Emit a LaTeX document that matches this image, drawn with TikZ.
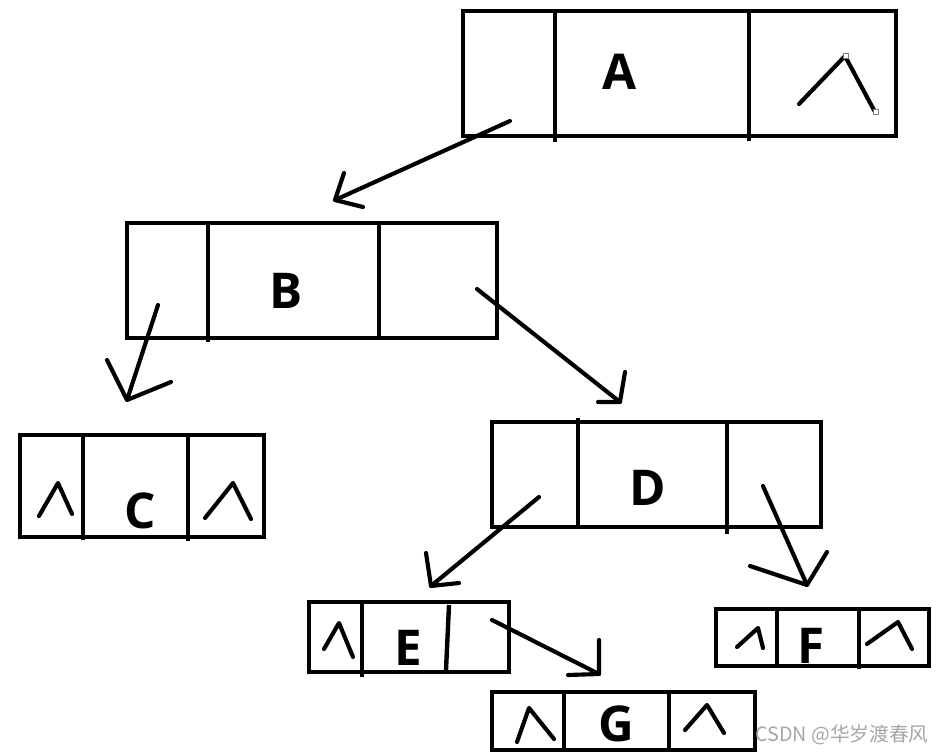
\documentclass[tikz,border=0pt]{standalone}
\usepackage{fontspec}
\setmainfont{Open Sans}
\newfontfamily\cjk{Noto Sans CJK SC}
\begin{document}
\begin{tikzpicture}[x=0.75pt,y=-0.75pt,
  box/.style={line width=3.3pt},
  lab/.style={font=\bfseries\fontsize{37}{40}\selectfont, inner sep=0pt},
  caret/.style={line width=3.1pt, line cap=round, line join=round},
  link/.style={line width=3.1pt, line cap=round, line join=round},
  handle/.style={draw=gray, fill=white, line width=0.4pt, minimum size=4pt, inner sep=0pt}]
\useasboundingbox (0,0) rectangle (942,752);

% ---- A ----
\draw[box] (463,11) rectangle (896,136);
\draw[box] (555,11) -- (555,142);
\draw[box] (749,11) -- (749,141);
\node[lab] (labA) at (620,72) {A};
\draw[caret] (799,104) -- (845,56) -- (875,112);
\node[handle] (h1) at (846,56) {};
\node[handle] (h2) at (876,112) {};

% ---- B ----
\draw[box] (127,223) rectangle (497,338);
\draw[box] (208,223) -- (208,342);
\draw[box] (379,223) -- (379,338);
\node[lab] (labB) at (286,291) {B};

% ---- C ----
\draw[box] (20,435) rectangle (264,537);
\draw[box] (83,435) -- (83,540);
\draw[box] (188,435) -- (188,541);
\node[lab] (labC) at (140,511) {C};
\draw[caret] (39,516) -- (58,483) -- (72,514);
\draw[caret] (205,518) -- (233,483) -- (251,519);

% ---- D ----
\draw[box] (492,422) rectangle (821,527);
\draw[box] (578,418) -- (578,527);
\draw[box] (727,422) -- (727,534);
\node[lab] (labD) at (648,488) {D};

% ---- E ----
\draw[box] (309,602) rectangle (509,672);
\draw[box] (362,602) -- (362,677);
\draw[box] (449,605) -- (446,670);
\node[lab] (labE) at (408,648) {E};
\draw[caret] (324,649) -- (339,623) -- (353,657);

% ---- F ----
\draw[box] (716,609) rectangle (929,666);
\draw[box] (777,609) -- (777,666);
\draw[box] (859,609) -- (859,669);
\node[lab] (labF) at (811,646) {F};
\draw[caret] (737,647) -- (758,628) -- (763,648);
\draw[caret] (867,644) -- (898,622) -- (912,649);

% ---- G ----
\draw[box] (492,692) rectangle (755,750);
\draw[box] (564,692) -- (564,750);
\draw[box] (669,692) -- (669,750);
\node[lab] (labG) at (616,724) {G};
\draw[caret] (517,742) -- (529,708) -- (554,739);
\draw[caret] (685,730) -- (707,705) -- (724,733);

% ---- arrows ----
\coordinate (abS) at (510,121); \coordinate (abT) at (335,200);
\coordinate (abL) at (344,173); \coordinate (abR) at (363,207);
\draw[link] (abS) -- (abT); \draw[link] (abL) -- (abT) -- (abR);

\coordinate (bcS) at (158,305); \coordinate (bcT) at (127,400);
\coordinate (bcL) at (107,360); \coordinate (bcR) at (171,382);
\draw[link] (bcS) -- (bcT); \draw[link] (bcL) -- (bcT) -- (bcR);

\coordinate (bdS) at (477,289); \coordinate (bdT) at (620,402);
\coordinate (bdL) at (625,372); \coordinate (bdR) at (598,402);
\draw[link] (bdS) -- (bdT); \draw[link] (bdL) -- (bdT) -- (bdR);

\coordinate (deS) at (539,497); \coordinate (deT) at (431,586);
\coordinate (deL) at (426,553); \coordinate (deR) at (459,583);
\draw[link] (deS) -- (deT); \draw[link] (deL) -- (deT) -- (deR);

\coordinate (dfS) at (763,486); \coordinate (dfT) at (807,585);
\coordinate (dfL) at (750,566); \coordinate (dfR) at (827,552);
\draw[link] (dfS) -- (dfT); \draw[link] (dfL) -- (dfT) -- (dfR);

\coordinate (egS) at (492,620); \coordinate (egT) at (599,674);
\coordinate (egL) at (599,640); \coordinate (egR) at (568,675);
\draw[link] (egS) -- (egT); \draw[link] (egL) -- (egT) -- (egR);

% ---- watermark ----
\node[anchor=base west, inner sep=0pt, text=black!35, font=\cjk\fontsize{14.8}{17}\selectfont] (wm) at (755,741) {CSDN @华岁渡春风};
\end{tikzpicture}
\end{document}
